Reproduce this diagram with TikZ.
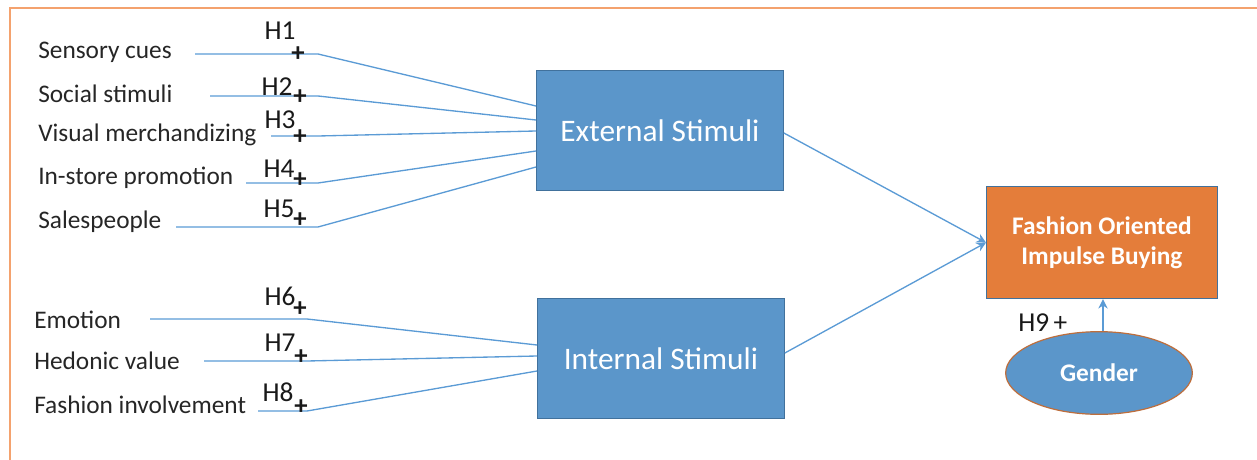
\documentclass[tikz,border=0pt]{standalone}
\usepackage{fontspec}
\setmainfont{Carlito}
\usetikzlibrary{arrows.meta,positioning,shapes.geometric}
\definecolor{stimblue}{RGB}{91,150,202}
\definecolor{stimedge}{RGB}{65,113,156}
\definecolor{linkblue}{RGB}{91,155,213}
\definecolor{buyorange}{RGB}{228,125,58}
\definecolor{frameorange}{RGB}{244,162,110}
\definecolor{genderedge}{RGB}{190,110,60}
\tikzset{
  factor/.style={font=\fontsize{19}{21}\selectfont, text=black!85, inner sep=0pt, anchor=west},
  hyp/.style={font=\fontsize{20.5}{23}\selectfont, text=black!90, inner sep=0pt},
  plus/.style={font=\fontsize{20}{22}\selectfont\bfseries, text=black!90, inner sep=0pt},
  stim/.style={draw=stimedge, fill=stimblue, text=white, line width=0.9pt,
    minimum width=185pt, minimum height=90pt, font=\fontsize{23.5}{26}\selectfont},
  outcome/.style={draw=stimedge, fill=buyorange, text=white, line width=0.9pt, align=center,
    minimum width=173pt, minimum height=84pt, font=\fontsize{19}{23}\selectfont\bfseries},
  moder/.style={draw=genderedge, fill=stimblue, text=white, ellipse, line width=0.9pt,
    minimum width=140pt, minimum height=62pt, font=\fontsize{19}{21}\selectfont\bfseries},
  link/.style={draw=linkblue, line width=1pt},
  arrow/.style={draw=linkblue, line width=1pt, -{Stealth[length=7pt,width=7pt]}},
  frame/.style={draw=frameorange, line width=1.6pt}
}
\begin{document}
\begin{tikzpicture}[x=0.75pt, y=-0.75pt]
  \useasboundingbox (0,0) rectangle (1257,460);
  \draw[frame] (10,460) -- (10,8) -- (1257,8);
  % boxes
  \node[stim, anchor=north west] (ext) at (536,70) {External Stimuli};
  \node[stim, anchor=north west] (int) at (537,298) {Internal Stimuli};
  \node[outcome, anchor=north west] (fob) at (986,186) {Fashion Oriented\\Impulse Buying};
  \node[moder] (gen) at (1099,373) {Gender};
  % external factors
  \node[factor] (sc) at (38,52) {Sensory cues};
  \node[factor] (ss) at (38,94) {Social stimuli};
  \node[factor] (vm) at (38,135) {Visual merchandizing};
  \node[factor] (ip) at (38,178) {In-store promotion};
  \node[factor] (sp) at (38,222) {Salespeople};
  % internal factors
  \node[factor] (em) at (34,320) {Emotion};
  \node[factor] (hv) at (34,361) {Hedonic value};
  \node[factor] (fi) at (34,405) {Fashion involvement};
  % line ends
  \coordinate (sc-a) at (195,54);  \coordinate (sc-b) at (318,54);  \coordinate (e1) at (536,106);
  \coordinate (ss-a) at (210,96);  \coordinate (ss-b) at (318,96);  \coordinate (e2) at (536,120);
  \coordinate (vm-a) at (271,136); \coordinate (vm-b) at (318,136); \coordinate (e3) at (536,131);
  \coordinate (ip-a) at (246,183); \coordinate (ip-b) at (318,183); \coordinate (e4) at (536,151);
  \coordinate (sp-a) at (176,227); \coordinate (sp-b) at (318,227); \coordinate (e5) at (536,167);
  \coordinate (em-a) at (150,319); \coordinate (em-b) at (307,319); \coordinate (i1) at (537,345);
  \coordinate (hv-a) at (204,361); \coordinate (hv-b) at (307,361); \coordinate (i2) at (537,356);
  \coordinate (fi-a) at (258,411); \coordinate (fi-b) at (307,411); \coordinate (i3) at (537,371);
  \draw[link] (sc-a) -- (sc-b) -- (e1);
  \draw[link] (ss-a) -- (ss-b) -- (e2);
  \draw[link] (vm-a) -- (vm-b) -- (e3);
  \draw[link] (ip-a) -- (ip-b) -- (e4);
  \draw[link] (sp-a) -- (sp-b) -- (e5);
  \draw[link] (em-a) -- (em-b) -- (i1);
  \draw[link] (hv-a) -- (hv-b) -- (i2);
  \draw[link] (fi-a) -- (fi-b) -- (i3);
  % hypotheses
  \node[hyp] (h1) at (280,31) {H1};  \node[plus] (p1) at (298,54) {+};
  \node[hyp] (h2) at (277,87) {H2};  \node[plus] (p2) at (300,97) {+};
  \node[hyp] (h3) at (280,120) {H3}; \node[plus] (p3) at (300,137) {+};
  \node[hyp] (h4) at (279,169) {H4}; \node[plus] (p4) at (300,180) {+};
  \node[hyp] (h5) at (279,209) {H5}; \node[plus] (p5) at (300,220) {+};
  \node[hyp] (h6) at (280,296) {H6}; \node[plus] (p6) at (300,309) {+};
  \node[hyp] (h7) at (280,343) {H7}; \node[plus] (p7) at (301,357) {+};
  \node[hyp] (h8) at (278,392) {H8}; \node[plus] (p8) at (301,407) {+};
  % into the outcome
  \draw[arrow] (ext.east |- 0,133) -- (fob.west);
  \draw[arrow] (int.east |- 0,353) -- (fob.west);
  \draw[arrow] (gen.north -| 1103,0) -- (fob.south -| 1103,0);
  \node[hyp, anchor=west] (h9) at (1018,323) {H9\,+};
\end{tikzpicture}
\end{document}
